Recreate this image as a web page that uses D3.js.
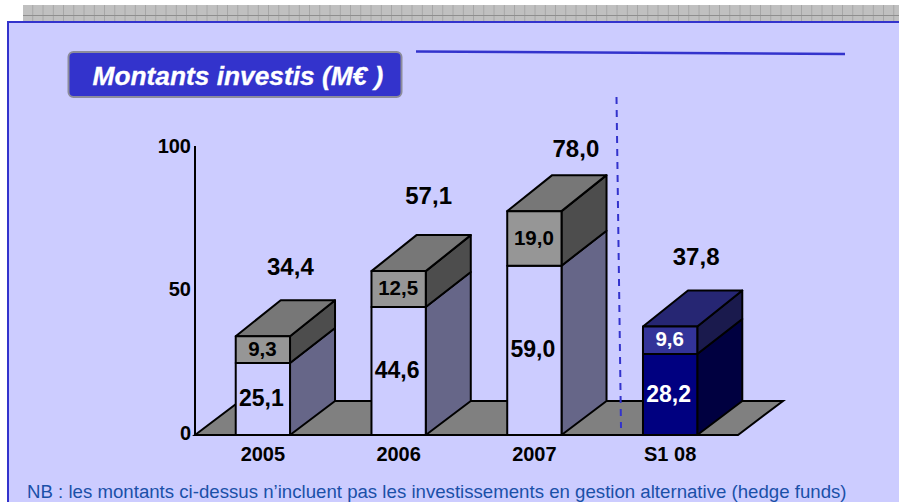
<!DOCTYPE html>
<html><head><meta charset="utf-8">
<script src="https://cdn.jsdelivr.net/npm/d3@7/dist/d3.min.js"></script>
<style>html,body{margin:0;padding:0;background:#fff;overflow:hidden}svg{display:block}text{font-family:"Liberation Sans",Arial,sans-serif}</style>
</head><body><script>
const categories = ["2005","2006","2007","S1 08"];
const lowerValues = [25.1,44.6,59.0,28.2];
const upperValues = [9.3,12.5,19.0,9.6];
const totals = [34.4,57.1,78.0,37.8];
const yTicks = [0,50,100];
const title = "Montants investis (M€ )";
const note = "NB : les montants ci-dessus n’incluent pas les investissements en gestion alternative (hedge funds)";

const W=899,H=502;
const svg=d3.select("body").append("svg").attr("width",W).attr("height",H);
const fr=v=>d3.format(".1f")(v).replace(".",",");
const defs=svg.append("defs");
const pat=defs.append("pattern").attr("id","grid").attr("patternUnits","userSpaceOnUse")
  .attr("x",23).attr("y",5).attr("width",10.25).attr("height",16);
pat.append("rect").attr("width",10.25).attr("height",16).attr("fill","#c0c0c0");
pat.append("rect").attr("x",9.75).attr("width",1).attr("height",16).attr("fill","#8e8e8e");
pat.append("rect").attr("y",10).attr("width",10.25).attr("height",1).attr("fill","#8e8e8e");

svg.append("rect").attr("x",23).attr("y",5).attr("width",W-23).attr("height",16).attr("fill","url(#grid)");
svg.append("rect").attr("x",8).attr("y",22).attr("width",W+10).attr("height",H).attr("fill","#ccccff").attr("stroke","#3333cc").attr("stroke-width",2);

svg.append("rect").attr("x",68.5).attr("y",52).attr("width",333).attr("height",45).attr("rx",5)
  .attr("fill","#3333cc").attr("stroke","#8c8c9c").attr("stroke-width",2);
svg.append("text").attr("x",92.5).attr("y",85).attr("fill","#fff").attr("font-size",26.3).attr("font-weight","bold").attr("font-style","italic").attr("stroke","#fff").attr("stroke-width",0.3).text(title);

svg.append("line").attr("x1",416).attr("y1",51.5).attr("x2",845).attr("y2",54).attr("stroke","#3333cc").attr("stroke-width",2.4);

// scales
const baseY=435, floorDepth=34, depthX=45;
const x=d3.scaleBand().domain(categories).range([195,738]).paddingInner(0.6).paddingOuter(0.3);
const y=d3.scaleLinear().domain([0,100]).range([baseY,148]);
const bw=x.bandwidth();
const line=d3.line();

// floor
svg.append("path").attr("d",line([[x.range()[0],baseY],[x.range()[0]+depthX,baseY-floorDepth],[x.range()[1]+depthX,baseY-floorDepth],[x.range()[1],baseY]])+"Z")
  .attr("fill","#808080").attr("stroke","#000").attr("stroke-width",2);

// axis
const axis=d3.axisLeft(y).tickValues(yTicks).tickSize(0).tickPadding(4);
const gA=svg.append("g").attr("transform","translate(195,0)").call(axis);
gA.select(".domain").attr("stroke","#000").attr("stroke-width",2).attr("d",`M0,146V${baseY}`);
gA.selectAll("text").attr("font-size",20).attr("font-weight","bold").attr("fill","#000").attr("font-family","Liberation Sans").attr("dy","0.2em");

const colors={
 plain:{low:"#ccccff",lowSide:"#666688",up:"#969696",upSide:"#4d4d4d",top:"#777777",lowText:"#000",upText:"#000"},
 navy:{low:"#000080",lowSide:"#000040",up:"#333399",upSide:"#1a1a4d",top:"#262673",lowText:"#fff",upText:"#fff"}
};
const stroke=s=>s.attr("stroke","#000").attr("stroke-width",2).attr("stroke-linejoin","round");
const totalDx=[27.5,30,41.5,26], totalDy=[70,76,63,70];

categories.forEach((c,i)=>{
  const x0=x(c),x1=x0+bw,y0=y(0),yl=y(lowerValues[i]),yu=y(lowerValues[i]+upperValues[i]);
  const col=i===3?colors.navy:colors.plain, g=svg.append("g");
  const poly=(pts,f)=>g.append("path").attr("d",line(pts)+"Z").attr("fill",f).call(stroke);
  poly([[x1,y0],[x1+depthX,y0-34],[x1+depthX,yl-35],[x1,yl]],col.lowSide);
  poly([[x1,yl],[x1+depthX,yl-35],[x1+depthX,yu-36],[x1,yu]],col.upSide);
  poly([[x0,yu],[x0+depthX,yu-36],[x1+depthX,yu-36],[x1,yu]],col.top);
  poly([[x0,y0],[x1,y0],[x1,yl],[x0,yl]],col.low);
  poly([[x0,yl],[x1,yl],[x1,yu],[x0,yu]],col.up);
  const mid=x0+bw/2-1;
  g.append("text").attr("x",mid-0.5).attr("y",(y0+yl)/2-1).attr("dy","0.35em").attr("text-anchor","middle")
    .attr("font-size",23).attr("font-weight","bold").attr("fill",col.lowText).text(fr(lowerValues[i]));
  g.append("text").attr("x",mid+0.5).attr("y",(yl+yu)/2-1).attr("dy","0.35em").attr("text-anchor","middle")
    .attr("font-size",20.5).attr("font-weight","bold").attr("fill",col.upText).text(fr(upperValues[i]));
  g.append("text").attr("x",mid+1+totalDx[i]).attr("y",yu-totalDy[i]).attr("dy","0.35em").attr("text-anchor","middle")
    .attr("font-size",24).attr("font-weight","bold").attr("fill","#000").text(fr(totals[i]));
  g.append("text").attr("x",x0+bw/2).attr("y",454).attr("dy","0.35em").attr("text-anchor","middle")
    .attr("font-size",20).attr("font-weight","bold").attr("fill","#000").text(c);
});

// dashed divider
svg.append("line").attr("x1",616.5).attr("y1",97).attr("x2",621).attr("y2",428).attr("stroke","#3333cc").attr("stroke-width",2).attr("stroke-dasharray","7 6");

svg.append("text").attr("x",27).attr("y",498).attr("font-size",18.65).attr("fill","#1a50a8").text(note);
</script></body></html>
